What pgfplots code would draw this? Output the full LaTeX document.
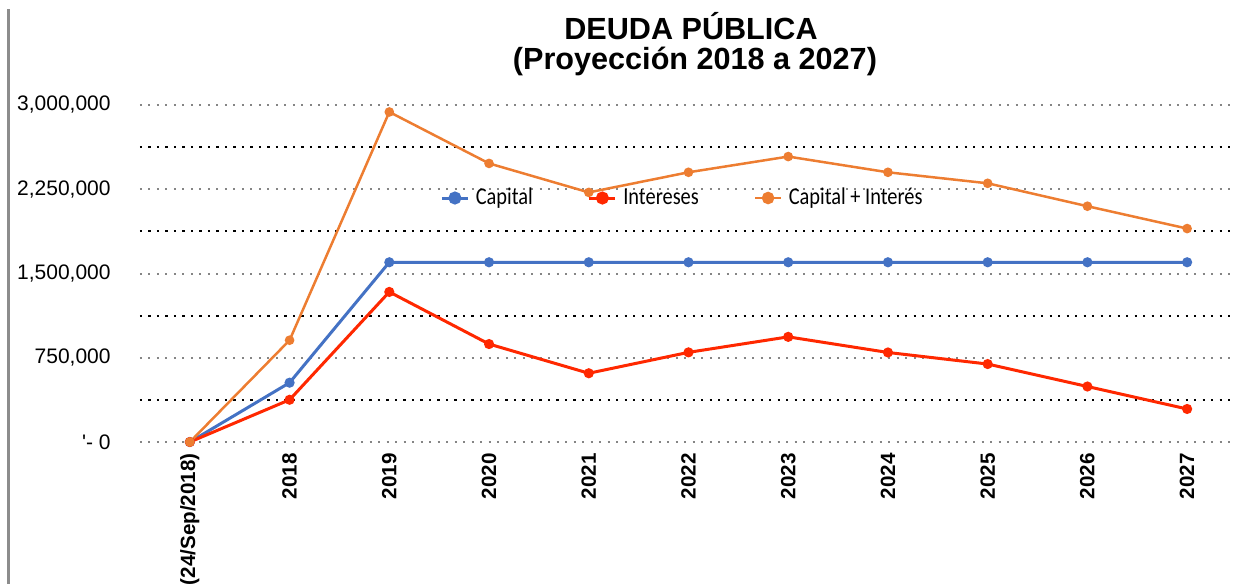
\documentclass[border=0pt]{standalone}
\usepackage{fontspec}
\setmainfont{Liberation Sans}
\newfontfamily\carlito[FakeStretch=0.85]{Carlito}
\usepackage{pgfplots}
\pgfplotsset{compat=1.18}
\definecolor{cblue}{RGB}{68,114,196}
\definecolor{cred}{RGB}{255,40,0}
\definecolor{corange}{RGB}{237,125,49}
\definecolor{lgray}{RGB}{140,140,140}
\begin{document}
\begin{tikzpicture}
\path[use as bounding box] (-70pt,-71pt) rectangle (546.5pt,221pt);
\draw[lgray, line width=1.35pt] (-65.8pt,-71pt) -- (-65.8pt,216.5pt);
\begin{axis}[
  at={(0pt,0pt)}, anchor=south west,
  scale only axis, width=546.5pt, height=168.5pt,
  xmin=-0.5, xmax=10.46, ymin=0, ymax=3000000,
  clip=false,
  scaled y ticks=false,
  axis line style={draw=none},
  major tick length=0pt, minor tick length=0pt,
  xtick={0,1,2,3,4,5,6,7,8,9,10},
  xticklabels={(24/Sep/2018),2018,2019,2020,2021,2022,2023,2024,2025,2026,2027},
  xticklabel style={font=\fontsize{10.3}{12}\selectfont\bfseries, rotate=90, anchor=east, inner xsep=5.5pt, inner ysep=0pt},
  ytick={0,750000,1500000,2250000,3000000},
  yticklabels={\textquotesingle- 0,{750,000},{1,500,000},{2,250,000},{3,000,000}},
  yticklabel style={font=\fontsize{10.5}{12}\selectfont, anchor=east, inner xsep=14.5pt},
  minor ytick={375000,1125000,1875000,2625000},
  ymajorgrids, yminorgrids,
  major grid style={draw=black!48, line width=1pt, dash pattern=on 1pt off 3.25pt},
  minor grid style={draw=black, line width=1.1pt, dash pattern=on 1.1pt off 3.15pt},
  legend columns=3,
  legend style={at={(axis description cs:0.2745,0.724)}, anchor=west, draw=none, fill=none, inner sep=0pt,
    font=\carlito\fontsize{12}{13}\selectfont,
    nodes={inner sep=0pt},
    /tikz/every odd column/.append style={column sep=3.2pt},
    /tikz/every even column/.append style={column sep=27.5pt}},
  legend image code/.code={\draw[mark repeat=2,mark phase=2, mark size=2.5pt] plot coordinates {(0pt,0pt) (6.5pt,0pt) (13pt,0pt)};},
]
\addplot[cblue, line width=1.5pt, mark=*, mark size=1.75pt] coordinates {
(0,0) (1,528000) (2,1600000) (3,1600000) (4,1600000) (5,1600000) (6,1600000) (7,1600000) (8,1600000) (9,1600000) (10,1600000)};
\addlegendentry{Capital}
\addplot[cred, line width=1.5pt, mark=*, mark size=1.75pt] coordinates {
(0,0) (1,376000) (2,1336000) (3,872000) (4,612000) (5,798000) (6,936000) (7,797000) (8,694000) (9,494000) (10,294000)};
\addlegendentry{Intereses}
\addplot[corange, line width=1.25pt, mark=*, mark size=1.75pt] coordinates {
(0,0) (1,906000) (2,2938000) (3,2480000) (4,2222000) (5,2401000) (6,2541000) (7,2401000) (8,2303000) (9,2099000) (10,1900000)};
\addlegendentry{Capital + Interés}
\end{axis}
\node[anchor=base, font=\fontsize{15.3}{16}\selectfont\bfseries, inner sep=0pt] at (275.5pt,201pt) {DEUDA PÚBLICA};
\node[anchor=base, font=\fontsize{15.3}{16}\selectfont\bfseries, inner sep=0pt] at (277.5pt,186pt) {(Proyección 2018 a 2027)};
\end{tikzpicture}
\end{document}
